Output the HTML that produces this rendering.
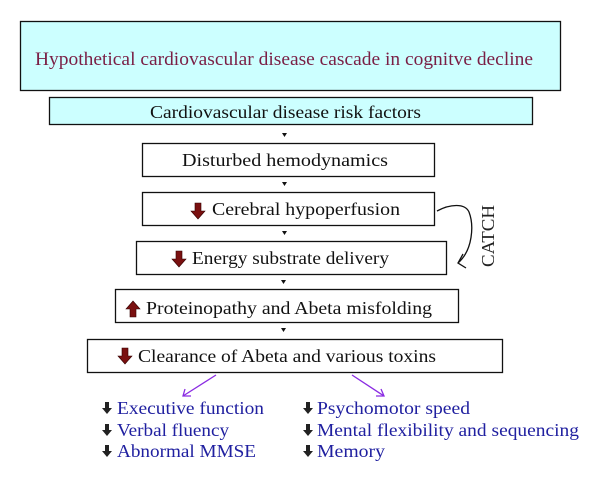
<!DOCTYPE html>
<html><head><style>
body{margin:0;background:#fff;}
svg text{font-family:"Liberation Serif",serif;}
</style></head><body>
<svg width="600" height="482" viewBox="0 0 600 482" xmlns="http://www.w3.org/2000/svg">
<defs>
<g id="dn"><path d="M-3,-8 h6 v8 h4 l-7,8 l-7,-8 h4 z" fill="#7a1010" stroke="#300" stroke-width="0.6"/></g>
<g id="sdn"><path d="M-2,-6 h4 v6 h3 l-5,6 l-5,-6 h3 z" fill="#222"/></g>
</defs>
<rect x="20.5" y="21.5" width="540" height="69" fill="#ccffff" stroke="#111" stroke-width="1.3"/>
<text x="35" y="65" font-size="19" fill="#7a1f45" textLength="498" lengthAdjust="spacingAndGlyphs">Hypothetical cardiovascular disease cascade in cognitve decline</text>
<rect x="49.5" y="97.5" width="483" height="27" fill="#ccffff" stroke="#111" stroke-width="1.3"/>
<text x="150" y="118" font-size="18" fill="#111" textLength="271" lengthAdjust="spacingAndGlyphs">Cardiovascular disease risk factors</text>
<rect x="142.5" y="143.5" width="292" height="33" fill="#fff" stroke="#111" stroke-width="1.3"/>
<text x="182" y="166" font-size="18" fill="#111" textLength="206" lengthAdjust="spacingAndGlyphs">Disturbed hemodynamics</text>
<rect x="142.5" y="192.5" width="292" height="33" fill="#fff" stroke="#111" stroke-width="1.3"/>
<use href="#dn" x="198" y="211"/>
<text x="212" y="215" font-size="18" fill="#111" textLength="188" lengthAdjust="spacingAndGlyphs">Cerebral hypoperfusion</text>
<rect x="136.5" y="241.5" width="310" height="33" fill="#fff" stroke="#111" stroke-width="1.3"/>
<use href="#dn" x="179" y="259"/>
<text x="192" y="264" font-size="18" fill="#111" textLength="197" lengthAdjust="spacingAndGlyphs">Energy substrate delivery</text>
<rect x="115.5" y="289.5" width="343" height="33" fill="#fff" stroke="#111" stroke-width="1.3"/>
<g transform="translate(133,309) rotate(180)"><path d="M-3,-8 h6 v8 h4 l-7,8 l-7,-8 h4 z" fill="#7a1010" stroke="#300" stroke-width="0.6"/></g>
<text x="146" y="314" font-size="18" fill="#111" textLength="286" lengthAdjust="spacingAndGlyphs">Proteinopathy and Abeta misfolding</text>
<rect x="87.5" y="339.5" width="415" height="33" fill="#fff" stroke="#111" stroke-width="1.3"/>
<use href="#dn" x="125" y="356"/>
<text x="138" y="362" font-size="18" fill="#111" textLength="298" lengthAdjust="spacingAndGlyphs">Clearance of Abeta and various toxins</text>
<g fill="#111">
<path d="M282,133 h5 l-2.5,4 z"/>
<path d="M282,182 h5 l-2.5,4 z"/>
<path d="M282,231 h5 l-2.5,4 z"/>
<path d="M281,280 h5 l-2.5,4 z"/>
<path d="M281,328 h5 l-2.5,4 z"/>
</g>
<path d="M437,211 C450,204 465,203 469,212 C474,225 473,250 458,263" fill="none" stroke="#111" stroke-width="1.3"/>
<path d="M463,254 L458,263 L466,268" fill="none" stroke="#111" stroke-width="1.3"/>
<text transform="translate(494,236) rotate(-90)" font-size="18" text-anchor="middle" fill="#222" textLength="62" lengthAdjust="spacingAndGlyphs">CATCH</text>
<g stroke="#8a2be2" stroke-width="1.3" fill="none">
<path d="M216,375 L183,396"/><path d="M185,389 L183,396 L191,396"/>
<path d="M352,375 L384,396"/><path d="M376,396 L384,396 L381,389"/>
</g>
<g font-size="18" fill="#2020a0">
<text x="117" y="414" textLength="147" lengthAdjust="spacingAndGlyphs">Executive function</text>
<text x="117" y="436" textLength="112" lengthAdjust="spacingAndGlyphs">Verbal fluency</text>
<text x="117" y="457" textLength="139" lengthAdjust="spacingAndGlyphs">Abnormal MMSE</text>
<text x="317" y="414" textLength="153" lengthAdjust="spacingAndGlyphs">Psychomotor speed</text>
<text x="317" y="436" textLength="262" lengthAdjust="spacingAndGlyphs">Mental flexibility and sequencing</text>
<text x="317" y="457" textLength="68" lengthAdjust="spacingAndGlyphs">Memory</text>
</g>
<use href="#sdn" x="107" y="408"/><use href="#sdn" x="107" y="430"/><use href="#sdn" x="107" y="451"/>
<use href="#sdn" x="308" y="408"/><use href="#sdn" x="308" y="430"/><use href="#sdn" x="308" y="451"/>
</svg>
</body></html>
